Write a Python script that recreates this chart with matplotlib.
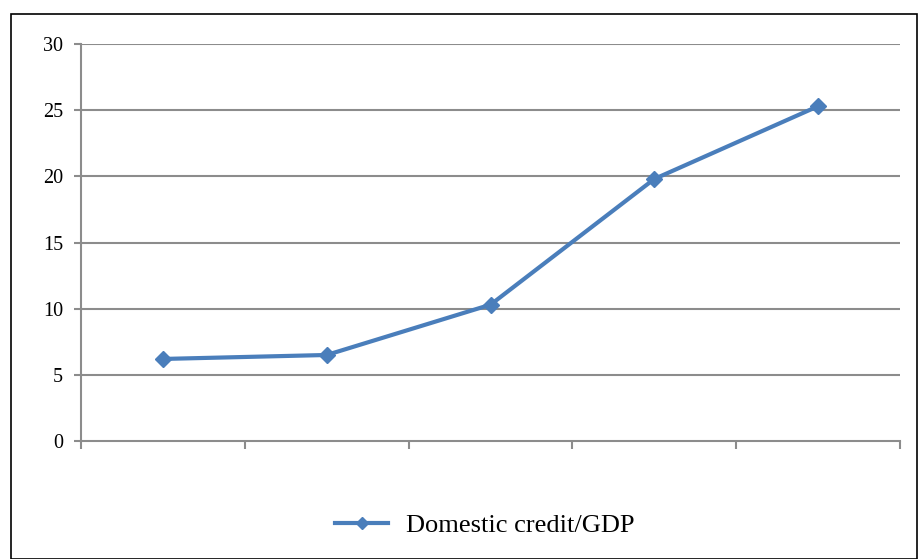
import matplotlib
matplotlib.use("Agg")
import matplotlib.pyplot as plt
from matplotlib.patches import Rectangle
from matplotlib.lines import Line2D

# values
categories = ["1", "2", "3", "4", "5"]
credit_gdp = [6.2, 6.5, 10.3, 19.8, 25.3]
y_ticks = [0, 5, 10, 15, 20, 25, 30]
series_name = "Domestic credit/GDP"

W, H = 918, 559
fig = plt.figure(figsize=(W / 100, H / 100), dpi=100)
plt.rcParams["font.family"] = ["Liberation Serif", "DejaVu Serif"]

# outer frame
fig.add_artist(Rectangle((11 / W, 0.5 / H), (917 - 11) / W, (545 - 0.5) / H,
                         transform=fig.transFigure, fill=False,
                         edgecolor="black", linewidth=1.2))

ax = fig.add_axes([81 / W, 1 - 441 / H, (900 - 81) / W, (441 - 44) / H])
x = list(range(len(categories)))
line_col = "#4a7ebb"
ax.plot(x, credit_gdp, color=line_col, linewidth=3, marker="D",
        markersize=8, markerfacecolor=line_col, markeredgecolor=line_col)

ax.set_xlim(-0.5, len(categories) - 0.5)
ax.set_ylim(0, 30)
ax.set_yticks(y_ticks)
ax.set_yticklabels([str(v) for v in y_ticks], fontsize=14.5)
ax.set_xticks([i - 0.5 for i in range(len(categories) + 1)])
ax.set_xticklabels([])
for v in y_ticks[1:]:
    ax.axhline(v, color="#8c8c8c", linewidth=1.5, zorder=0)

for s in ["top", "right"]:
    ax.spines[s].set_visible(False)
for s in ["left", "bottom"]:
    ax.spines[s].set_color("#8c8c8c")
    ax.spines[s].set_linewidth(1.5)
ax.tick_params(axis="y", length=5, color="#8c8c8c", width=1.5, pad=8)
ax.tick_params(axis="x", length=6, color="#8c8c8c", width=1.5)

handle = Line2D([], [], color=line_col, linewidth=3, marker="D",
                markersize=6, markerfacecolor=line_col)
fig.legend([handle], [series_name], loc="center", frameon=False,
           bbox_to_anchor=(485 / W, 1 - 525 / H), fontsize=19,
           handlelength=2.0, handletextpad=0.7)

fig.savefig("out.png", dpi=100)
